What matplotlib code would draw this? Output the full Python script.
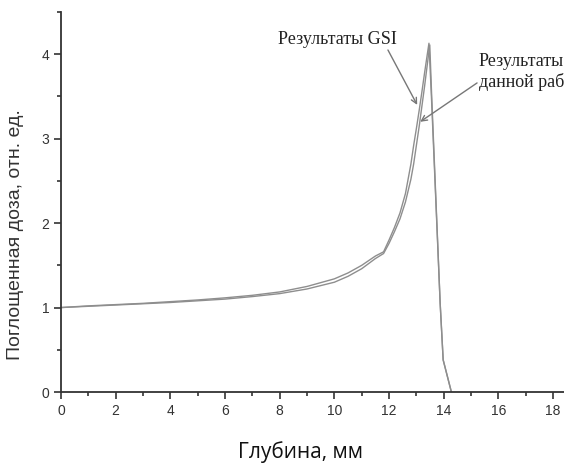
import matplotlib.pyplot as plt
from matplotlib.ticker import MultipleLocator

# depth, mm / relative dose
depth_gsi = [0, 1, 2, 3, 4, 5, 6, 7, 8, 9, 10, 10.5, 11, 11.5, 11.8, 12.0,
             12.2, 12.4, 12.6, 12.8, 12.9, 13.0, 13.1, 13.2, 13.3, 13.4, 13.46,
             13.55, 13.87, 13.98, 14.28]
dose_gsi = [1.00, 1.02, 1.035, 1.05, 1.07, 1.09, 1.115, 1.145, 1.185, 1.25, 1.34, 1.41,
            1.50, 1.61, 1.66, 1.80, 1.95, 2.12, 2.35, 2.70, 2.92, 3.12, 3.33, 3.55,
            3.78, 4.00, 4.13, 3.50, 1.05, 0.38, 0.0]

depth_work = [0, 1, 2, 3, 4, 5, 6, 7, 8, 9, 10, 10.5, 11, 11.5, 11.8, 12.0,
              12.2, 12.4, 12.6, 12.8, 12.9, 13.0, 13.1, 13.2, 13.3, 13.4, 13.49,
              13.56, 13.87, 13.98, 14.28]
dose_work = [1.00, 1.015, 1.03, 1.045, 1.06, 1.08, 1.10, 1.13, 1.165, 1.22, 1.30, 1.37,
             1.46, 1.58, 1.64, 1.76, 1.90, 2.05, 2.25, 2.52, 2.70, 2.92, 3.14, 3.38,
             3.62, 3.88, 4.11, 3.50, 1.05, 0.38, 0.0]

x_ticks = [0, 2, 4, 6, 8, 10, 12, 14, 16, 18]
y_ticks = [0, 1, 2, 3, 4]


def main():
    fig = plt.figure(figsize=(5.64, 4.65), dpi=100)
    ax = fig.add_axes([61 / 564, 73 / 465, 1 - 61 / 564, 380 / 465])

    ax.plot(depth_gsi, dose_gsi, color='#8e8e8e', lw=1.0)
    ax.plot(depth_work, dose_work, color='#8e8e8e', lw=1.0)

    ax.set_xlim(0, 18.4)
    ax.set_ylim(0, 4.5)
    ax.set_xticks(x_ticks)
    ax.set_yticks(y_ticks)
    ax.xaxis.set_minor_locator(MultipleLocator(1))
    ax.yaxis.set_minor_locator(MultipleLocator(0.5))

    for side in ['top', 'right']:
        ax.spines[side].set_visible(False)
    for side in ['left', 'bottom']:
        ax.spines[side].set_color('#333333')
        ax.spines[side].set_linewidth(1.3)

    ax.tick_params(which='both', direction='out', color='#333333', width=1.2,
                   labelsize=10, labelcolor='#333333')
    ax.tick_params(which='major', length=5)
    ax.tick_params(which='minor', length=3)
    for lab in ax.get_xticklabels() + ax.get_yticklabels():
        lab.set_family('Liberation Sans')

    fig.text(16 / 564, 1 - 235 / 465, 'Поглощенная доза, отн. ед.', rotation=90,
             ha='center', va='center', fontsize=14, family='Liberation Sans',
             color='#333333')
    fig.text(300 / 564, 1 - 452 / 465, 'Глубина, мм', ha='center', va='center',
             fontsize=15, family='Open Sans', color='#111111')

    arrow = dict(arrowstyle='->', color='#777777', lw=1.0,
                 shrinkA=0, shrinkB=0)
    ax.text(7.94, 4.17, 'Результаты GSI', fontsize=13, family='Liberation Serif',
            ha='left', va='center', color='#222222')
    ax.annotate('', xy=(13.03, 3.40), xytext=(11.96, 4.05), arrowprops=arrow)

    ax.text(15.29, 3.79, 'Результаты\nданной работы', fontsize=13,
            family='Liberation Serif', ha='left', va='center', linespacing=1.25,
            color='#222222', clip_on=False)
    ax.annotate('', xy=(13.14, 3.20), xytext=(15.22, 3.66), arrowprops=arrow)

    plt.savefig('out.png', dpi=100)
    return 0


if __name__ == '__main__':
    main()
